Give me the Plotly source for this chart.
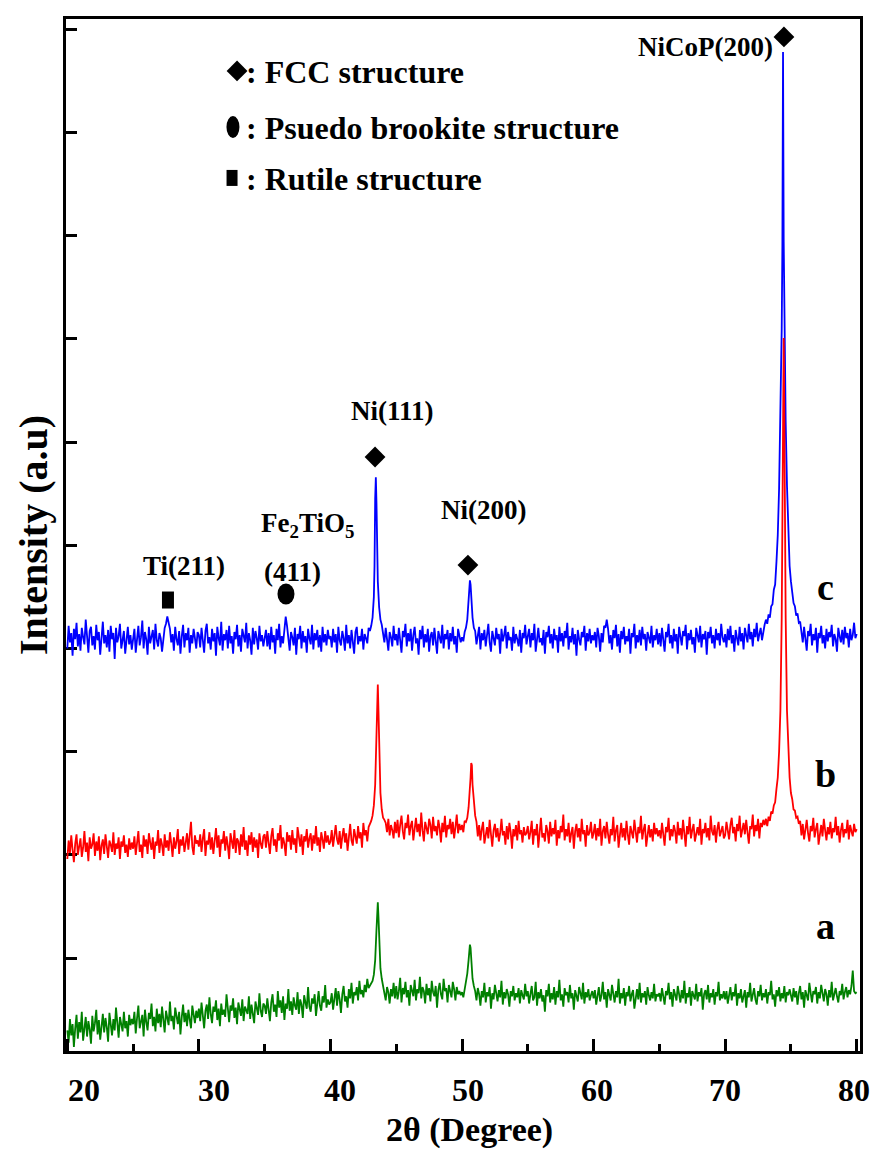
import numpy as np
import plotly.graph_objects as go

# 2-theta scan grid (degrees), 0.1 deg step
two_theta = np.round(20 + 0.1 * np.arange(601), 1)

# (c) pattern, intensity on the scan grid (one row per 5 degrees)
int_c = [
    390, 412, 396, 405, 383, 409, 399, 415, 392, 404, 388, 410, 401, 394, 418, 397, 386, 407, 411, 393,
    402, 389, 413, 398, 406, 384, 400, 416, 395, 403, 391, 408, 387, 412, 399, 405, 380, 410, 396, 402,
    414, 390, 398, 407, 385, 401, 411, 394, 403, 389,
    397, 409, 386, 404, 412, 393, 401, 417, 390, 406, 399, 384, 411, 395, 403, 408, 389, 414, 398, 392,
    405, 400, 387, 402, 410, 414, 421, 415, 409, 396, 404, 388, 411, 399, 393, 407, 385, 402, 413, 391,
    405, 398, 410, 386, 403, 395, 409, 400, 390, 406,
    403, 391, 410, 398, 386, 407, 414, 395, 401, 389, 409, 397, 405, 383, 411, 400, 393, 416, 388, 404,
    398, 408, 390, 412, 395, 402, 385, 406, 399, 413, 392, 403, 387, 409, 401, 396, 415, 390, 405, 398,
    384, 410, 394, 407, 400, 389, 412, 397, 403, 392,
    400, 408, 392, 405, 389, 411, 396, 403, 385, 409, 398, 414, 391, 402, 395, 411, 421, 412, 397, 388,
    406, 401, 393, 410, 384, 404, 399, 412, 390, 407, 396, 402, 386, 409, 400, 394, 413, 389, 405, 398,
    408, 391, 403, 387, 411, 396, 404, 393, 408, 399,
    402, 391, 409, 396, 404, 386, 411, 398, 393, 407, 400, 388, 413, 395, 403, 390, 408, 399, 385, 406,
    411, 394, 402, 397, 409, 389, 404, 400, 395, 410, 407, 412, 420, 440, 535, 530, 455, 430, 418, 413,
    405, 396, 410, 399, 388, 406, 401, 392, 412, 398,
    404, 393, 410, 398, 386, 407, 401, 414, 392, 405, 397, 409, 388, 403, 411, 395, 400, 384, 408, 399,
    412, 391, 404, 396, 409, 387, 402, 406, 393, 410, 398, 385, 407, 401, 395, 413, 390, 404, 399, 408,
    389, 405, 397, 411, 394, 402, 386, 409, 400, 396,
    401, 397, 406, 410, 418, 436, 456, 440, 420, 410, 407, 394, 403, 411, 389, 405, 398, 408, 392, 402,
    414, 396, 387, 407, 400, 393, 410, 399, 404, 385, 409, 397, 403, 412, 390, 406, 398, 401, 388, 411,
    395, 404, 399, 392, 408, 386, 405, 400, 413, 394,
    402, 409, 391, 405, 398, 414, 387, 403, 410, 396, 400, 393, 408, 385, 406, 401, 412, 395, 404, 390,
    409, 398, 403, 386, 411, 397, 405, 392, 407, 400, 415, 389, 402, 396, 410, 394, 404, 383, 408, 399,
    393, 406, 401, 412, 388, 405, 397, 409, 395, 403,
    398, 406, 391, 410, 402, 387, 405, 396, 412, 410, 418, 409, 395, 403, 389, 408, 400, 413, 392, 404,
    386, 407, 399, 411, 394, 402, 397, 409, 385, 405, 401, 414, 390, 403, 396, 408, 393, 411, 399, 404,
    388, 406, 400, 395, 412, 391, 403, 398, 409, 394,
    405, 392, 410, 399, 387, 406, 401, 414, 395, 403, 390, 409, 397, 404, 385, 411, 400, 393, 407, 402,
    413, 389, 405, 398, 408, 394, 401, 386, 410, 403, 396, 412, 391, 404, 399, 407, 384, 406, 400, 411,
    395, 403, 390, 409, 398, 405, 393, 414, 401, 396,
    404, 391, 409, 398, 412, 395, 403, 387, 408, 400, 393, 411, 397, 405, 389, 410, 402, 396, 414, 399,
    406, 392, 409, 401, 415, 397, 404, 410, 398, 407, 413, 418, 414, 423, 420, 431, 433, 447, 452, 474,
    500, 545, 610, 700, 968, 702, 610, 548, 500, 470,
    455, 446, 434, 431, 422, 424, 415, 416, 405, 396, 411, 399, 388, 407, 402, 414, 393, 404, 398, 410,
    386, 405, 400, 412, 395, 403, 390, 409, 397, 406, 401, 413, 392, 404, 399, 387, 410, 402, 396, 408,
    394, 411, 400, 405, 391, 409, 398, 403, 415, 400,
    404,
]
# extra readings taken across the sharp reflections of (c)
fine_c_x = [43.35, 43.45, 43.55, 50.55, 50.65, 74.25, 74.35, 74.45, 74.55]
fine_c_y = [470, 556, 490, 450, 452, 650, 780, 785, 648]

# (b) pattern
int_b = [
    186, 204, 192, 209, 195, 183, 201, 210, 190, 199, 206, 188, 197, 213, 193, 202, 184, 207, 196, 200,
    211, 189, 203, 194, 208, 185, 199, 205, 191, 210, 197, 187, 204, 200, 193, 212, 190, 201, 196, 207,
    186, 203, 198, 209, 192, 200, 188, 206, 195, 202,
    196, 208, 190, 204, 213, 193, 200, 187, 209, 198, 205, 191, 211, 202, 195, 207, 186, 203, 199, 214,
    192, 206, 200, 189, 210, 197, 204, 194, 212, 201, 188, 207, 196, 203, 215, 191, 205, 199, 208, 193,
    202, 211, 195, 206, 222, 198, 190, 209, 201, 204,
    198, 210, 193, 206, 215, 189, 204, 200, 212, 195, 207, 191, 203, 216, 197, 209, 188, 205, 201, 213,
    194, 208, 199, 186, 211, 202, 196, 214, 192, 206, 203, 190, 210, 198, 217, 195, 204, 189, 209, 200,
    212, 193, 207, 197, 205, 187, 211, 201, 196, 208,
    210, 197, 213, 202, 191, 208, 216, 199, 205, 193, 211, 204, 219, 196, 207, 201, 189, 212, 203, 209,
    195, 214, 200, 206, 192, 217, 204, 198, 210, 190, 208, 203, 215, 197, 206, 211, 194, 209, 201, 218,
    199, 207, 193, 212, 205, 196, 213, 202, 209, 200,
    203, 214, 198, 210, 219, 205, 200, 213, 196, 208, 216, 202, 211, 194, 207, 220, 204, 199, 215, 209,
    201, 218, 206, 212, 197, 221, 209, 214, 203, 217, 220, 223, 228, 238, 258, 305, 355, 290, 250, 234,
    226, 224, 221, 212, 225, 209, 219, 214, 206, 222,
    211, 224, 207, 219, 228, 213, 205, 221, 216, 229, 209, 218, 223, 204, 215, 226, 212, 220, 208, 231,
    214, 203, 222, 217, 210, 225, 219, 206, 227, 213, 218, 209, 224, 216, 202, 221, 212, 228, 207, 219,
    215, 225, 210, 222, 206, 217, 229, 211, 220, 214,
    219, 212, 223, 222, 226, 236, 252, 279, 258, 242, 228, 222, 208, 219, 204, 215, 222, 201, 212, 217,
    206, 224, 210, 198, 214, 220, 207, 216, 203, 211, 225, 209, 213, 200, 218, 205, 221, 212, 196, 215,
    208, 219, 204, 223, 210, 214, 202, 217, 209, 211,
    218, 205, 212, 223, 200, 215, 209, 220, 197, 214, 226, 207, 211, 203, 219, 213, 201, 222, 208, 216,
    210, 224, 199, 214, 206, 218, 212, 229, 204, 215, 208, 221, 202, 211, 217, 196, 213, 220, 207, 216,
    203, 225, 210, 214, 198, 219, 209, 212, 222, 206,
    211, 220, 204, 216, 208, 225, 199, 213, 218, 206, 222, 210, 201, 215, 209, 227, 203, 214, 219, 197,
    212, 221, 207, 216, 204, 223, 210, 200, 218, 213, 206, 224, 209, 202, 217, 211, 228, 205, 214, 220,
    198, 212, 219, 207, 215, 203, 221, 210, 216, 208,
    214, 206, 221, 210, 199, 217, 212, 226, 204, 215, 208, 219, 213, 201, 222, 209, 216, 205, 224, 211,
    198, 218, 210, 227, 206, 214, 220, 203, 212, 217, 209, 225, 200, 215, 211, 221, 207, 216, 204, 228,
    213, 209, 219, 202, 215, 222, 208, 212, 218, 206,
    209, 222, 214, 205, 219, 226, 211, 217, 203, 220, 213, 228, 207, 216, 221, 210, 224, 212, 201, 218,
    215, 229, 208, 219, 213, 225, 206, 221, 217, 224, 219, 225, 218, 227, 223, 232, 230, 238, 241, 254,
    265, 290, 330, 420, 610, 610, 420, 330, 290, 265,
    250, 244, 234, 233, 226, 227, 220, 223, 209, 220, 205, 216, 224, 211, 203, 218, 213, 226, 207, 215,
    221, 200, 212, 219, 208, 225, 214, 204, 217, 210, 222, 206, 216, 212, 227, 209, 218, 202, 214, 221,
    207, 215, 211, 224, 205, 219, 213, 208, 220, 212,
    215,
]
fine_b_x = [43.55, 43.65, 50.65, 50.75, 74.35, 74.45, 74.55]
fine_b_y = [340, 330, 265, 277, 500, 691, 500]

# (a) pattern
int_a = [
    20, 8, 31, 15, 26, 4, 22, 35, 12, 28, 18, 38, 10, 25, 33, 14, 29, 21, 7, 34,
    19, 27, 40, 16, 30, 11, 24, 36, 18, 32, 23, 9, 37, 26, 15, 31, 20, 42, 24, 13,
    33, 27, 19, 38, 22, 29, 14, 35, 25, 31,
    26, 38, 17, 32, 44, 22, 29, 35, 14, 40, 28, 20, 37, 31, 46, 24, 33, 19, 41, 27,
    36, 23, 43, 30, 18, 39, 32, 25, 48, 29, 34, 21, 42, 35, 26, 38, 16, 33, 45, 28,
    37, 24, 40, 31, 22, 44, 35, 27, 39, 32,
    41, 29, 47, 34, 22, 39, 45, 31, 52, 36, 27, 43, 38, 49, 30, 41, 24, 46, 35, 40,
    33, 55, 37, 28, 44, 39, 51, 32, 42, 26, 47, 38, 34, 50, 29, 43, 40, 36, 53, 31,
    45, 38, 27, 48, 42, 35, 56, 39, 33, 46,
    44, 36, 51, 40, 29, 47, 55, 38, 45, 33, 58, 42, 49, 37, 53, 30, 46, 41, 60, 39,
    48, 35, 52, 44, 40, 57, 36, 50, 45, 32, 54, 47, 41, 62, 43, 38, 51, 46, 55, 34,
    49, 58, 44, 39, 53, 47, 64, 42, 50, 45,
    47, 56, 40, 52, 61, 44, 58, 50, 37, 55, 63, 48, 53, 42, 60, 51, 66, 46, 57, 54,
    62, 49, 68, 55, 59, 52, 64, 57, 70, 61, 63, 66, 68, 74, 88, 118, 144, 105, 80, 70,
    64, 55, 49, 62, 57, 46, 60, 53, 66, 51,
    63, 50, 58, 71, 47, 61, 55, 67, 52, 59, 44, 64, 57, 53, 69, 49, 60, 56, 72, 51,
    62, 58, 46, 65, 54, 61, 48, 68, 57, 53, 63, 42, 59, 66, 55, 50, 70, 58, 61, 47,
    64, 56, 52, 67, 60, 49, 62, 55, 58, 54,
    57, 52, 60, 64, 75, 88, 103, 90, 70, 63, 58, 49, 61, 55, 44, 58, 52, 66, 47, 57,
    53, 62, 41, 56, 50, 64, 54, 48, 59, 52, 68, 45, 57, 51, 60, 55, 43, 58, 53, 63,
    49, 56, 52, 61, 46, 59, 54, 50, 65, 53,
    58, 46, 55, 63, 49, 52, 67, 44, 57, 51, 60, 48, 54, 38, 59, 53, 65, 47, 56, 50,
    62, 45, 58, 52, 69, 49, 55, 43, 61, 54, 57, 47, 64, 51, 56, 40, 59, 53, 48, 62,
    55, 50, 66, 46, 57, 52, 60, 49, 54, 58,
    51, 59, 45, 56, 62, 48, 54, 67, 50, 57, 42, 60, 53, 49, 64, 55, 47, 58, 52, 70,
    46, 56, 51, 61, 44, 57, 53, 63, 48, 55, 59, 41, 54, 60, 50, 66, 47, 56, 52, 58,
    45, 62, 54, 49, 57, 51, 65, 48, 55, 53,
    56, 48, 61, 52, 45, 58, 54, 66, 50, 57, 43, 60, 53, 49, 63, 55, 47, 59, 51, 68,
    46, 56, 52, 62, 44, 58, 54, 50, 65, 48, 57, 53, 61, 40, 55, 59, 50, 64, 47, 56,
    52, 60, 45, 57, 53, 67, 49, 55, 51, 58,
    50, 58, 46, 55, 62, 49, 57, 53, 65, 44, 56, 51, 60, 47, 54, 59, 42, 57, 52, 66,
    48, 55, 61, 50, 45, 58, 53, 64, 49, 56, 52, 60, 46, 57, 54, 68, 50, 55, 43, 59,
    53, 62, 48, 56, 51, 63, 47, 57, 54, 60,
    55, 48, 61, 52, 58, 45, 56, 63, 50, 57, 42, 59, 54, 49, 66, 53, 47, 58, 55, 62,
    46, 57, 51, 64, 53, 48, 60, 55, 44, 59, 52, 67, 49, 56, 61, 53, 47, 58, 54, 65,
    50, 57, 62, 52, 59, 55, 63, 78, 58, 56,
    57,
]
fine_a_x = [43.55, 43.65, 50.55, 50.65]
fine_a_y = [138, 130, 98, 100]

# x-axis tick values and their labels
x_ticks = [20, 30, 40, 50, 60, 70, 80]
x_tick_text = ["20", "30", "40", "50", "60", "70", "80"]

# phase markers (2theta, intensity)
fcc_marks = [(74.47, 982.6), (43.39, 575.6), (50.45, 470.9)]
brookite_marks = [(36.62, 442.8)]
rutile_marks = [(27.65, 437.0)]

for arr in (int_a, int_b, int_c):
    assert len(arr) == len(two_theta), len(arr)


def merge(grid_y, fx, fy):
    x = np.concatenate([two_theta, np.asarray(fx, float)])
    y = np.concatenate([np.asarray(grid_y, float), np.asarray(fy, float)])
    order = np.argsort(x, kind="stable")
    return x[order], y[order]


X0, X1 = 19.9, 80.25
Y0, Y1 = 0, 1000
L, R, T, B = 66, 12, 19, 98
W, H = 872, 1149
px_per_x = (W - L - R) / (X1 - X0)
px_per_y = (H - T - B) / (Y1 - Y0)

FONT = "Liberation Serif"

fig = go.Figure()
for name, (gy, fx, fy), color in [
    ("a", (int_a, fine_a_x, fine_a_y), "#008000"),
    ("c", (int_c, fine_c_x, fine_c_y), "#0000FF"),
    ("b", (int_b, fine_b_x, fine_b_y), "#FF0000"),
]:
    x, y = merge(gy, fx, fy)
    fig.add_trace(go.Scatter(x=x, y=y, mode="lines", name=name,
                             line=dict(color=color, width=1.8), showlegend=False,
                             hoverinfo="skip"))

# diamonds for the FCC reflections and the key
dx = [m[0] for m in fcc_marks] + [32.90]
dy = [m[1] for m in fcc_marks] + [949.7]
fig.add_trace(go.Scatter(x=dx, y=dy, mode="markers", showlegend=False, hoverinfo="skip",
                         marker=dict(symbol="diamond", size=16, color="black")))

shapes = []


def ellipse(xc, yc, wpx, hpx):
    return dict(type="circle", xref="x", yref="y", fillcolor="black", line=dict(width=0),
                x0=xc - wpx / 2 / px_per_x, x1=xc + wpx / 2 / px_per_x,
                y0=yc - hpx / 2 / px_per_y, y1=yc + hpx / 2 / px_per_y)


def block(xc, yc, wpx, hpx):
    return dict(type="rect", xref="x", yref="y", fillcolor="black", line=dict(width=0),
                x0=xc - wpx / 2 / px_per_x, x1=xc + wpx / 2 / px_per_x,
                y0=yc - hpx / 2 / px_per_y, y1=yc + hpx / 2 / px_per_y)


for xc, yc in brookite_marks:
    shapes.append(ellipse(xc, yc, 17, 21))
shapes.append(ellipse(32.59, 895.4, 13, 22))
for xc, yc in rutile_marks:
    shapes.append(block(xc, yc, 12, 17))
shapes.append(block(32.52, 846.0, 11, 16))

ann = []


def txt(x, y, s, size, xanchor="center"):
    ann.append(dict(x=x, y=y, xref="x", yref="y", text=s, showarrow=False,
                    xanchor=xanchor, yanchor="middle",
                    font=dict(family=FONT, size=size, color="black", weight="bold")))


txt(33.43, 948.5, ": FCC structure", 32, xanchor="left")
txt(33.43, 894.0, ": Psuedo brookite structure", 32, xanchor="left")
txt(33.43, 845.0, ": Rutile structure", 32, xanchor="left")

txt(68.47, 972.9, "NiCoP(200)", 27)
txt(44.75, 620.2, "Ni(111)", 27)
txt(51.67, 524.2, "Ni(200)", 27)
txt(38.29, 510.0, "Fe<sub>2</sub>TiO<sub>5</sub>", 27)
txt(37.08, 464.1, "(411)", 27)
txt(28.87, 470.0, "Ti(211)", 27)

txt(77.66, 450.0, "c", 38)
txt(77.66, 268.0, "b", 38)
txt(77.66, 121.0, "a", 38)

# x tick labels, anchored to their tick values and nudged sideways
label_nudge = [17, 15, 10, 6, 3, 0, -3]
for v, s, dxp in zip(x_ticks, x_tick_text, label_nudge):
    ann.append(dict(x=v, y=(H - B - 1090) / (H - T - B), xref="x", yref="paper",
                    text=s, showarrow=False, xanchor="center", yanchor="middle",
                    xshift=dxp,
                    font=dict(family=FONT, size=32, color="black", weight="bold")))

ann.append(dict(x=(33 - L) / (W - L - R), y=0.5, xref="paper", yref="paper",
                text="Intensity (a.u)", textangle=-90, showarrow=False,
                xanchor="center", yanchor="middle",
                font=dict(family=FONT, size=40, color="black", weight="bold")))
ann.append(dict(x=(469 - L) / (W - L - R), y=(H - B - 1130) / (H - T - B),
                xref="paper", yref="paper", text="2θ (Degree)", showarrow=False,
                xanchor="center", yanchor="middle",
                font=dict(family=FONT, size=34, color="black", weight="bold")))

fig.update_layout(
    width=W, height=H, autosize=False,
    margin=dict(l=L, r=R, t=T, b=B, autoexpand=False),
    paper_bgcolor="white", plot_bgcolor="white",
    shapes=shapes, annotations=ann,
    xaxis=dict(range=[X0, X1], showgrid=False, zeroline=False, automargin=False,
               showline=True, linecolor="black", linewidth=3, mirror=True,
               ticks="inside", ticklen=12, tickwidth=3, tickcolor="black",
               tickmode="array", tickvals=x_ticks, showticklabels=False,
               minor=dict(ticks="inside", ticklen=7, tickwidth=3, tickcolor="black", dtick=5, tick0=20)),
    yaxis=dict(range=[Y0, Y1], showgrid=False, zeroline=False, automargin=False,
               showline=True, linecolor="black", linewidth=3, mirror=True,
               ticks="inside", ticklen=11, tickwidth=3, tickcolor="black",
               tick0=90, dtick=100, showticklabels=False, layer="below traces"),
)

fig.write_html(
    "out.html",
    config={"responsive": False},
    post_script="document.documentElement.style.overflow='hidden';"
                "document.body.style.overflow='hidden';document.body.style.margin='0';",
)
